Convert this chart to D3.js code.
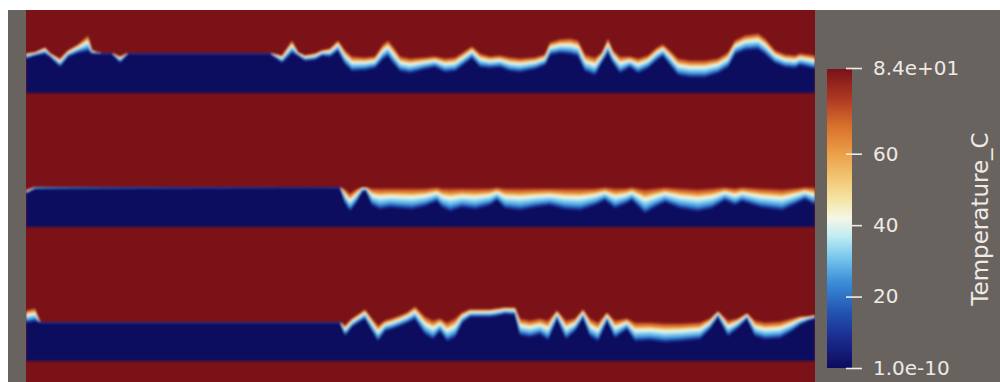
<!DOCTYPE html>
<html>
<head>
<meta charset="utf-8">
<script src="https://cdn.jsdelivr.net/npm/d3@7"></script>
<style>
  body { margin: 0; background: #ffffff; }
  svg { display: block; }
  .cbar-axis text { font-family: "DejaVu Sans", sans-serif; font-size: 20px; fill: #eeeae6; }
  .cbar-axis line { stroke: #eeeae6; stroke-width: 1.6; }
  .cbar-title { font-family: "DejaVu Sans", sans-serif; font-size: 23px; fill: #eeeae6; }
</style>
</head>
<body>
<div id="chart"></div>
<script>
// ---- colour map (Temperature_C) ----
const tempStops  = [0, 8, 16, 24, 31, 37, 42, 47, 53, 60, 68, 76, 84];
const tempColors = ["#0d0b5e", "#1a2a8c", "#2356b4", "#3a8cd8", "#78c6ec", "#c0ecf2",
                    "#f4f6e6", "#f5e6a8", "#f2c877", "#eca048", "#d8702c", "#ac3622", "#7b1218"];
const tickValues = [1e-10, 20, 40, 60, 84];
const tickLabels = ["1.0e-10", "20", "40", "60", "8.4e+01"];

// ---- frozen bands: mesh position along x, depth of the warm edge and the cold edge of the melt front ----
const band1Top = 43, band1Bottom = 83;
const band1X    = [0, 9, 19, 24, 34, 42, 52, 62, 66, 74, 86, 94, 102, 244, 256, 266, 272, 279, 289, 296, 304, 312, 319, 326, 339, 349, 357, 362, 367, 374, 384, 399, 409, 419, 429, 437, 446, 454, 464, 474, 484, 494, 509, 519, 524, 534, 544, 552, 559, 569, 576, 582, 587, 594, 604, 612, 622, 631, 637, 644, 652, 664, 679, 692, 702, 709, 719, 732, 739, 749, 759, 769, 774, 782, 789];
const band1Hot  = [43, 42, 37, 43, 48, 40, 34, 25, 40, 43, 43, 46, 43, 43, 45, 30, 42, 45, 43, 40, 38, 30, 40, 46, 47, 46, 34, 30, 36, 46, 48, 47, 46, 48, 47, 42, 36, 43, 46, 45, 47, 48, 47, 44, 32, 29, 28, 30, 44, 47, 42, 28, 40, 46, 46, 48, 45, 37, 34, 40, 48, 50, 50, 48, 42, 30, 25, 23, 28, 40, 44, 45, 43, 44, 45];
const band1Cold = [48, 45, 43, 46, 56, 46, 42, 40, 43, 43, 43, 52, 43, 43, 52, 42, 45, 50, 49, 45, 46, 40, 53, 60, 59, 57, 48, 45, 52, 60, 62, 58, 56, 61, 60, 54, 47, 56, 57, 56, 60, 61, 58, 54, 44, 42, 43, 45, 60, 64, 51, 42, 52, 62, 56, 62, 57, 49, 45, 54, 64, 66, 66, 62, 56, 43, 39, 38, 43, 52, 56, 57, 54, 56, 58];

const band2Top = 177, band2Bottom = 217;
const band2X    = [0, 9, 314, 319, 324, 330, 336, 340, 346, 354, 364, 374, 386, 399, 411, 416, 424, 436, 449, 464, 471, 479, 494, 509, 524, 539, 554, 569, 579, 589, 599, 606, 619, 629, 639, 654, 672, 686, 699, 709, 716, 734, 756, 769, 779, 789];
const band2Hot  = [180, 177, 177, 179, 183, 179, 177, 177, 178, 178, 178, 178, 178, 178, 177, 178, 178, 178, 178, 178, 177, 178, 178, 178, 178, 178, 178, 178, 177, 178, 178, 177, 179, 178, 177, 178, 179, 178, 177, 178, 177, 178, 179, 178, 177, 177];
const band2Cold = [183, 178, 177, 192, 200, 192, 181, 180, 194, 198, 196, 197, 198, 195, 190, 196, 200, 196, 198, 194, 189, 197, 199, 196, 194, 198, 199, 194, 189, 197, 193, 189, 202, 196, 191, 197, 200, 197, 189, 194, 190, 196, 199, 193, 188, 194];

const band3Top = 312, band3Bottom = 351;
const band3X    = [0, 9, 14, 314, 319, 326, 332, 339, 346, 352, 359, 366, 374, 381, 389, 399, 407, 414, 421, 429, 436, 444, 464, 471, 479, 489, 494, 504, 514, 522, 531, 540, 549, 557, 564, 572, 581, 589, 601, 609, 624, 639, 654, 674, 684, 692, 702, 712, 721, 729, 739, 754, 766, 774, 782, 789];
const band3Hot  = [300, 298, 312, 312, 315, 308, 304, 299, 308, 315, 310, 308, 305, 302, 296, 306, 310, 308, 312, 308, 302, 299, 299, 298, 297, 297, 308, 310, 308, 310, 300, 310, 308, 299, 308, 312, 302, 310, 308, 312, 312, 313, 313, 312, 308, 301, 310, 308, 303, 310, 312, 311, 308, 306, 306, 305];
const band3Cold = [312, 310, 312, 312, 325, 316, 312, 308, 320, 330, 320, 318, 315, 312, 308, 323, 328, 320, 330, 326, 312, 306, 306, 305, 303, 304, 324, 326, 323, 329, 308, 328, 320, 307, 325, 330, 310, 327, 318, 330, 329, 331, 330, 328, 318, 306, 325, 317, 308, 325, 328, 327, 320, 314, 310, 308];

const bands = [
    { top: band1Top, bottom: band1Bottom, x: band1X, hot: band1Hot, cold: band1Cold },
    { top: band2Top, bottom: band2Bottom, x: band2X, hot: band2Hot, cold: band2Cold },
    { top: band3Top, bottom: band3Bottom, x: band3X, hot: band3Hot, cold: band3Cold }
];

const tMax = 84;
const nLevels = 36;

// temperature across the front: fraction of the way from warm edge to cold edge -> temperature
const frontTemp = d3.scaleLinear()
    .domain([0, 0.25, 0.4, 0.5, 0.85, 1])
    .range([78, 62, 46, 38, 24, 8]);

// ---- setup ----
const width = 1000, height = 382;
const svg = d3.select("#chart").append("svg")
    .attr("width", width)
    .attr("height", height);

const defs = svg.append("defs");

// scales for the mesh (x along length, depth from the top)
const xScale = d3.scaleLinear().domain([0, 789]).range([26, 815]);
const yScale = d3.scaleLinear().domain([0, 372]).range([10, 382]);

const color = d3.scaleLinear()
    .domain(tempStops)
    .range(tempColors)
    .interpolate(d3.interpolateRgb);

// grey render view
svg.append("rect")
    .attr("x", 8).attr("y", 10)
    .attr("width", width - 8).attr("height", height - 10)
    .attr("fill", "#69635f");

defs.append("clipPath").attr("id", "fieldClip")
    .append("rect")
    .attr("x", xScale(0)).attr("y", yScale(0))
    .attr("width", xScale(789) - xScale(0))
    .attr("height", yScale(372) - yScale(0));

const soft = defs.append("filter").attr("id", "soft")
    .attr("x", "-2%").attr("y", "-10%").attr("width", "104%").attr("height", "120%");
soft.append("feGaussianBlur").attr("stdDeviation", 0.9);

const field = svg.append("g").attr("clip-path", "url(#fieldClip)");

field.append("rect")
    .attr("x", xScale(0)).attr("y", yScale(0))
    .attr("width", xScale(789) - xScale(0))
    .attr("height", yScale(372) - yScale(0))
    .attr("fill", color(tMax));

const bandsG = field.append("g").attr("filter", "url(#soft)");

// isotherm layers, warm first so the colder ones sit on top
const levels = d3.range(0, nLevels + 1).map(i => i / nLevels);

bands.forEach(b => {
    const pts = b.x.map((x, i) => ({ x: x, hot: b.hot[i], cold: b.cold[i] }));
    levels.forEach(f => {
        const area = d3.area()
            .x(d => xScale(d.x))
            .y0(yScale(b.bottom))
            .y1(d => yScale(d.hot + (d.cold - d.hot) * f));
        bandsG.append("path")
            .datum(pts)
            .attr("d", area)
            .attr("fill", color(frontTemp(f)));
    });
    // solid core
    const core = d3.area()
        .x(d => xScale(d.x))
        .y0(yScale(b.bottom))
        .y1(d => yScale(Math.min(d.cold + 1.5, b.bottom)));
    bandsG.append("path")
        .datum(pts)
        .attr("d", core)
        .attr("fill", color(0));
});

// ---- colour bar ----
const cScale = d3.scaleLinear().domain([0, tMax]).range([368, 68]);

const grad = defs.append("linearGradient").attr("id", "cmap")
    .attr("x1", 0).attr("y1", 1).attr("x2", 0).attr("y2", 0);
grad.selectAll("stop")
    .data(tempStops)
    .enter().append("stop")
    .attr("offset", d => d / tMax)
    .attr("stop-color", d => color(d));

svg.append("rect")
    .attr("x", 827).attr("y", cScale(tMax) + 1)
    .attr("width", 25).attr("height", cScale(0) - cScale(tMax) - 1)
    .attr("fill", "url(#cmap)");

const axis = d3.axisRight(cScale)
    .tickValues(tickValues)
    .tickSize(16)
    .tickPadding(11)
    .tickFormat((d, i) => tickLabels[i]);

const axisG = svg.append("g")
    .attr("class", "cbar-axis")
    .attr("transform", "translate(846,0)")
    .call(axis);
axisG.select(".domain").remove();
axisG.selectAll("text").attr("font-family", null).attr("font-size", null);

svg.append("text")
    .attr("class", "cbar-title")
    .attr("text-anchor", "middle")
    .attr("transform", "translate(988,219) rotate(-90)")
    .text("Temperature_C");
</script>
</body>
</html>
